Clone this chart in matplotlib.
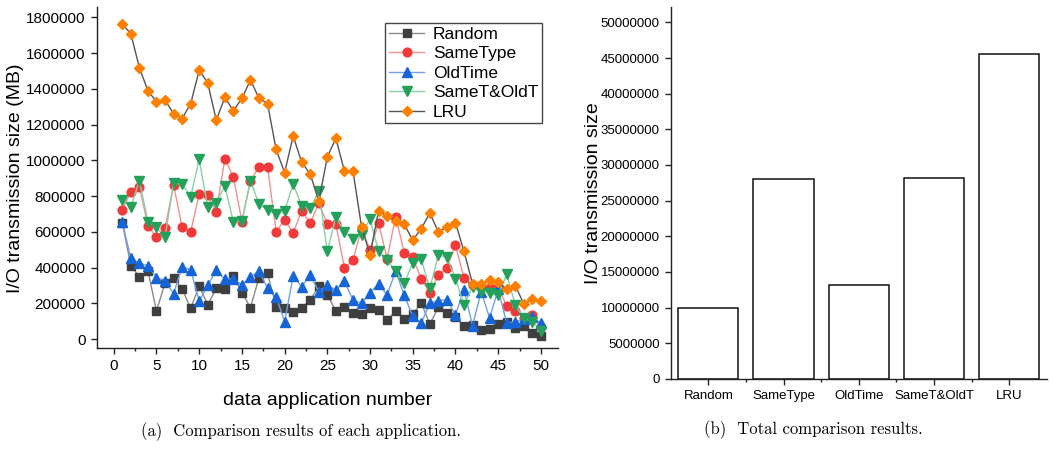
import matplotlib

matplotlib.use("Agg")
import matplotlib.pyplot as plt
from matplotlib.ticker import FixedLocator, MultipleLocator, StrMethodFormatter

plt.rcParams["font.family"] = ["Liberation Sans", "DejaVu Sans"]

# values
app_numbers = list(range(1, 51))

random_mb = [
    650000, 410000, 349000, 381000, 157000, 312000, 340000, 280000, 172000, 297000,
    192000, 283000, 278000, 353000, 260000, 176000, 343000, 368000, 181000, 172000,
    153000, 176000, 218000, 296000, 246000, 158000, 178000, 147000, 138000, 172000,
    163000, 106000, 157000, 114000, 140000, 201000, 84000, 177000, 143000, 121000,
    75000, 76000, 52000, 54000, 86000, 95000, 62000, 72000, 35000, 16000,
]
same_type_mb = [
    722000, 824000, 852000, 634000, 569000, 619000, 862000, 627000, 599000, 813000,
    804000, 713000, 1007000, 908000, 657000, 886000, 964000, 964000, 601000, 666000,
    595000, 716000, 647000, 760000, 645000, 642000, 398000, 440000, 620000, 498000,
    647000, 450000, 685000, 484000, 458000, 334000, 258000, 358000, 399000, 524000,
    341000, 300000, 290000, 285000, 290000, 185000, 157000, 115000, 134000, 70000,
]
old_time_mb = [
    654000, 452000, 425000, 409000, 344000, 326000, 254000, 403000, 388000, 212000,
    300000, 386000, 334000, 338000, 302000, 349000, 381000, 284000, 237000, 97000,
    353000, 293000, 358000, 265000, 302000, 274000, 325000, 218000, 200000, 260000,
    308000, 246000, 381000, 245000, 127000, 90000, 200000, 215000, 220000, 136000,
    276000, 74000, 265000, 118000, 278000, 90000, 95000, 110000, 125000, 88000,
]
same_old_mb = [
    778000, 741000, 886000, 657000, 625000, 569000, 871000, 868000, 797000, 1005000,
    737000, 760000, 858000, 655000, 662000, 886000, 754000, 722000, 698000, 716000,
    868000, 744000, 731000, 828000, 490000, 683000, 599000, 561000, 583000, 672000,
    490000, 440000, 380000, 312000, 425000, 445000, 283000, 470000, 458000, 337000,
    188000, 293000, 265000, 256000, 246000, 362000, 190000, 116000, 97000, 47000,
]
lru_mb = [
    1763000, 1707000, 1518000, 1388000, 1328000, 1337000, 1261000, 1233000, 1317000, 1503000,
    1433000, 1224000, 1352000, 1276000, 1347000, 1449000, 1347000, 1317000, 1061000, 931000,
    1136000, 989000, 923000, 770000, 1020000, 1123000, 940000, 940000, 629000, 470000,
    719000, 686000, 658000, 642000, 553000, 618000, 705000, 599000, 627000, 650000,
    491000, 308000, 308000, 330000, 317000, 280000, 299000, 196000, 222000, 215000,
]

methods = ["Random", "SameType", "OldTime", "SameT&OldT", "LRU"]
totals = [10000000, 28040000, 13130000, 28220000, 45560000]

# (series, marker, marker colour, line colour, marker size)
styles = [
    (random_mb, "s", "#3f3f3f", "#8a8a8a", 5.5),
    (same_type_mb, "o", "#f03a3a", "#f39090", 6.3),
    (old_time_mb, "^", "#1565d8", "#6fa1ea", 6.8),
    (same_old_mb, "v", "#23a05a", "#86d1a5", 6.8),
    (lru_mb, "D", "#ff8000", "#555555", 5.0),
]

fig = plt.figure(figsize=(10.51, 4.53), dpi=100)
ax1 = fig.add_axes([0.092, 0.2311, 0.4389, 0.7528])
ax2 = fig.add_axes([0.6382, 0.1634, 0.3578, 0.8205])

for ax in (ax1, ax2):
    for side in ("top", "right"):
        ax.spines[side].set_visible(False)
    for side in ("left", "bottom"):
        ax.spines[side].set_color("#222222")
        ax.spines[side].set_linewidth(1.0)
    ax.tick_params(which="major", direction="out", length=4.5, width=1.0, color="#222222")
    ax.tick_params(which="minor", direction="out", length=2.5, width=1.0, color="#222222")

# left: per application
for (values, marker, mcolor, lcolor, ms), name in zip(styles, methods):
    ax1.plot(
        app_numbers,
        values,
        marker=marker,
        color=lcolor,
        markerfacecolor=mcolor,
        markeredgecolor=mcolor,
        markersize=ms,
        linewidth=1.0,
        label=name,
    )

ax1.set_xlim(-2, 52)
ax1.set_ylim(-52000, 1856000)
ax1.xaxis.set_major_locator(MultipleLocator(5))
ax1.xaxis.set_minor_locator(MultipleLocator(2.5))
ax1.yaxis.set_major_locator(MultipleLocator(200000))
ax1.yaxis.set_major_formatter(StrMethodFormatter("{x:.0f}"))
ax1.tick_params(labelsize=11)

ax1.set_xlabel("data application number", fontsize=14, va="center")
ax1.xaxis.set_label_coords(0.5, -0.152)
ax1.set_ylabel("I/O transmission size (MB)", fontsize=14, va="center")
ax1.yaxis.set_label_coords(-0.177, 0.5)

leg = ax1.legend(
    loc="upper right",
    bbox_to_anchor=(0.9653, 0.954),
    borderaxespad=0,
    fontsize=12.5,
    handlelength=2.05,
    handletextpad=0.5,
    borderpad=0.2,
    labelspacing=0.25,
    fancybox=False,
    framealpha=1,
)
leg.get_frame().set_edgecolor("#444444")
leg.get_frame().set_linewidth(1.0)

# right: totals
positions = list(range(len(methods)))
ax2.bar(positions, totals, width=0.8, color="white", edgecolor="#111111", linewidth=1.1)
ax2.set_xlim(-0.5, 4.5)
ax2.set_ylim(0, 52110000)
ax2.xaxis.set_major_locator(FixedLocator(positions))
ax2.xaxis.set_minor_locator(FixedLocator([p + 0.5 for p in positions[:-1]]))
ax2.set_xticklabels(methods)
ax2.yaxis.set_major_locator(MultipleLocator(5000000))
ax2.yaxis.set_major_formatter(StrMethodFormatter("{x:.0f}"))
ax2.tick_params(labelsize=9.5)
ax2.set_ylabel("I/O transmission size", fontsize=14, va="center")
ax2.yaxis.set_label_coords(-0.2066, 0.5)

fig.text(301 / 1051, 1 - 432 / 453, "(a)  Comparison results of each application.",
         family="cmr10", fontsize=12, ha="center", va="center")
fig.text(813 / 1051, 1 - 430 / 453, "(b)  Total comparison results.",
         family="cmr10", fontsize=12, ha="center", va="center")

fig.savefig("out.png", dpi=100)
plt.close("all")
